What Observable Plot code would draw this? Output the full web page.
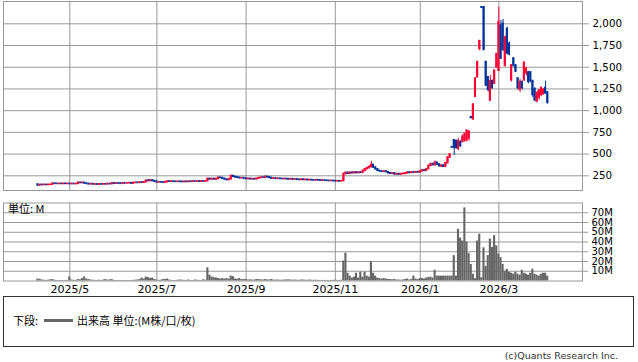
<!DOCTYPE html>
<html><head><meta charset="utf-8">
<script src="https://cdn.jsdelivr.net/npm/d3@7"></script>
<script src="https://cdn.jsdelivr.net/npm/@observablehq/plot@0.6"></script>
<style>
body{margin:0;background:#fff;}
#wrap{position:relative;width:638px;height:362px;overflow:hidden;background:#fff;font-family:"DejaVu Sans",sans-serif;}
#price{position:absolute;left:0;top:0;}
#vol{position:absolute;left:0;top:196px;}
#unit{position:absolute;left:8px;top:202px;font:11px "Noto Sans CJK JP",sans-serif;color:#000;line-height:13px;}
#legend{position:absolute;left:3px;top:296px;width:631px;height:51px;border:1px solid #333;box-sizing:border-box;font:11px "Noto Sans CJK JP",sans-serif;color:#000;}
#legend .t{position:absolute;top:15px;line-height:16px;white-space:nowrap;}
#legend .ln{position:absolute;left:40px;top:22px;width:29px;height:3px;background:#666;}
#copy{position:absolute;right:20px;top:350px;font:9.5px "DejaVu Sans",sans-serif;color:#333;white-space:nowrap;}
</style>
</head><body>
<div id="wrap">
  <div id="price"></div>
  <div id="vol"></div>
  <div id="unit">単位: M</div>
  <div id="legend"><span class="t" style="left:9px">下段:</span><span class="ln"></span><span class="t" style="left:73px">出来高 単位:(M株/口/枚)</span></div>
  <div id="copy">(c)Quants Research Inc.</div>
</div>
<script>
// trading-day index of first session of each labelled month, and labels
const monthIdx = [15, 56, 98, 140, 180, 217];
const monthLabels = ["2025/5", "2025/7", "2025/9", "2025/11", "2026/1", "2026/3"];
const priceTicks = [250, 500, 750, 1000, 1250, 1500, 1750, 2000];
const volTicks = [10, 20, 30, 40, 50, 60, 70];

const open = [
150,138,146,144,146,145,146,148,160,158,
157,158,156,158,157,158,155,157,155,156,
170,167,169,161,157,152,155,150,151,149,
152,150,153,151,156,154,163,160,162,161,
158,165,162,164,165,161,168,170,168,174,
170,176,194,190,196,190,182,174,176,174,
172,177,184,182,185,181,180,183,180,178,
182,179,184,181,185,183,185,182,185,184,
188,215,208,214,207,213,228,224,216,207,
200,210,248,238,232,228,222,224,218,212,
216,210,212,209,216,224,230,228,238,232,
226,218,220,215,217,214,212,214,211,208,
212,206,210,205,202,207,202,204,199,202,
198,196,200,197,195,196,194,192,190,192,
189,187,188,186,190,270,284,274,286,280,
288,282,288,284,305,325,338,350,375,345,
325,308,300,296,300,292,280,274,278,266,
270,264,270,272,278,288,282,290,286,292,
288,300,312,308,326,365,385,372,400,380,
360,368,355,395,460,580,660,650,560,640,
640,650,660,680,925,900,1160,1385,1710,2190,
2190,1560,1385,1117,1340,1310,1500,1460,1980,2000,
1520,1940,1770,1350,1600,1520,1370,1240,1330,1350,
1430,1440,1440,1340,1250,1110,1150,1180,1190,1260,1210];
const high = [
152,146,148,147,148,147,148,165,162,160,
160,160,159,160,160,160,158,159,158,172,
172,171,170,163,159,156,156,153,152,153,
154,154,155,157,158,165,166,164,165,163,
166,167,165,168,167,170,172,173,176,176,
178,198,205,198,200,195,185,178,178,176,
178,186,187,186,187,184,184,185,183,183,
184,185,186,186,188,186,187,186,188,190,
220,220,216,218,215,232,232,228,218,210,
212,255,252,242,236,232,226,226,222,218,
219,214,215,218,226,232,234,242,240,234,
228,222,222,219,219,217,216,216,214,214,
214,212,212,208,209,210,206,206,204,204,
200,202,202,199,198,198,197,195,194,194,
192,190,190,190,282,292,290,290,294,290,
292,290,292,310,330,345,360,418,378,350,
330,310,304,302,302,296,284,280,280,272,
274,272,276,280,290,290,292,296,294,296,
302,316,318,330,372,392,395,420,405,384,
372,372,400,470,505,585,665,660,680,650,
720,740,775,770,930,1075,1375,1565,1810,2195,
2195,1565,1390,1405,1350,1465,1660,2190,2040,2050,
1860,1960,1790,1530,1610,1530,1380,1360,1340,1560,
1500,1450,1450,1350,1260,1220,1240,1270,1250,1340,1220];
const low = [
135,136,142,142,143,143,144,147,155,155,
154,155,154,155,155,154,153,154,153,155,
165,165,160,155,150,150,148,147,147,147,
148,148,149,150,152,153,158,158,159,156,
157,160,159,162,160,160,165,166,167,168,
169,175,188,186,188,180,170,170,172,170,
171,176,180,180,180,178,178,179,177,176,
178,178,180,180,182,181,181,181,183,183,
187,205,205,206,204,212,222,214,205,196,
198,208,236,230,226,220,218,216,210,209,
208,206,207,208,214,222,226,227,230,224,
216,214,213,212,212,210,209,210,206,206,
204,204,203,200,200,200,198,197,196,196,
194,194,195,193,192,192,190,188,187,187,
185,184,185,182,188,262,270,270,278,276,
280,278,282,283,300,320,330,345,340,320,
305,296,292,290,288,276,270,268,264,260,
262,262,266,270,276,278,280,284,284,286,
286,298,304,306,324,360,368,370,375,355,
345,350,352,392,455,575,485,560,540,580,
630,640,640,650,910,895,1150,1380,1690,2175,
1690,1280,1215,1110,1250,1300,1490,1450,1590,1680,
1500,1640,1630,1330,1500,1440,1240,1210,1240,1340,
1400,1310,1320,1150,1100,1090,1120,1160,1180,1190,1075];
const close = [
138,145,144,146,145,146,147,160,158,157,
158,156,158,157,158,155,157,155,156,170,
167,169,161,157,152,155,150,151,149,152,
150,153,151,156,154,163,160,162,161,158,
165,162,164,165,161,168,170,168,174,170,
176,194,190,196,190,182,174,176,174,172,
177,184,182,185,181,180,183,180,178,182,
179,184,181,185,183,185,182,185,184,188,
215,208,214,207,213,228,224,216,207,200,
210,248,238,232,228,222,224,218,212,216,
210,212,209,216,224,230,228,238,232,226,
218,220,215,217,214,212,214,211,208,212,
206,210,205,202,207,202,204,199,202,198,
196,200,197,195,196,194,192,190,192,189,
187,188,186,188,270,284,274,286,280,288,
282,288,284,305,325,338,352,375,345,325,
308,300,296,300,292,280,274,278,266,270,
264,270,272,278,288,282,290,286,292,288,
300,312,308,326,365,385,372,400,380,360,
368,355,395,460,495,575,575,570,650,590,
700,730,770,755,915,1070,1370,1560,1800,2185,
1700,1290,1240,1340,1260,1460,1650,2020,1600,1700,
1840,1660,1650,1520,1520,1450,1260,1330,1260,1550,
1480,1330,1340,1180,1120,1200,1230,1260,1240,1200,1090];
// volume, millions of shares
const volume = [
2.0,1.8,1.0,0.8,0.6,0.8,1.2,1.5,0.8,0.5,
0.6,0.5,0.4,0.5,0.6,4.0,1.0,0.6,0.5,1.5,
1.2,2.5,4.2,2.0,1.5,1.0,0.8,0.6,0.5,0.8,
0.5,1.0,1.5,0.8,1.2,1.4,0.6,0.5,0.4,0.6,
0.5,0.4,0.5,0.4,0.5,0.6,0.8,1.0,1.5,3.0,
2.0,4.0,3.5,2.5,3.0,1.5,1.0,0.6,0.8,1.5,
1.5,2.0,1.0,0.6,0.5,0.4,0.8,1.0,0.8,0.6,
0.5,1.0,0.6,0.5,1.0,0.8,0.6,0.5,1.2,0.8,
13.5,6.0,4.0,3.5,3.0,2.5,2.0,2.5,2.0,2.5,
2.0,5.0,4.5,2.0,1.8,2.5,1.5,1.5,1.5,1.0,
1.2,1.0,0.8,1.5,1.5,1.2,1.0,1.5,1.2,1.0,
1.5,1.0,0.8,1.0,0.8,0.7,1.0,1.0,1.2,1.0,
0.8,1.0,0.8,0.6,1.0,1.0,0.8,0.6,1.0,0.8,
0.6,0.8,0.6,0.5,0.6,0.5,0.6,0.5,0.6,0.5,
0.8,0.6,0.5,0.8,20.5,28.6,8.0,5.0,3.0,4.0,
8.0,3.0,9.0,4.0,9.0,5.0,4.0,19.7,8.0,5.0,
3.0,2.5,2.0,2.5,2.0,1.5,1.5,1.2,1.5,1.0,
1.0,0.8,1.0,1.5,2.0,1.0,1.5,5.0,2.0,1.5,
2.5,2.5,2.0,3.0,3.5,4.0,3.0,11.0,5.0,5.0,
5.0,5.0,5.0,5.0,5.0,5.0,26.0,5.0,53.0,44.0,
41,75,40,28,17,7,2.4,41,48,3.4,
34,15,26,43,34.5,46.5,36,27.6,24,17,
10,12,9,8,7,9,7,6,11,8,
7,6,8,12,7,6,5,7,8,8,5];

const UP = "#ff0033", DOWN = "#003399", GRID = "#999999";
const rows = close.map((c, i) => ({i, o: open[i], h: high[i], l: low[i], c, v: volume[i], up: c >= open[i]}));
const xDomain = [-16.21, 256.38];
const labelOf = new Map(monthIdx.map((d, k) => [d, monthLabels[k]]));

const price = Plot.plot({
  width: 638, height: 192,
  marginLeft: 3, marginRight: 56, marginTop: 1, marginBottom: 2,
  x: {domain: xDomain, axis: null},
  y: {domain: [80.8, 2256.7], axis: null},
  style: {fontFamily: "DejaVu Sans", fontSize: "10.3px", color: "#000", background: "transparent", overflow: "visible"},
  marks: [
    Plot.ruleY(priceTicks, {stroke: GRID}),
    Plot.ruleX(monthIdx, {stroke: GRID}),
    Plot.frame({stroke: GRID}),
    Plot.axisY({ticks: priceTicks, anchor: "right", tickSize: 6, tickPadding: 4, stroke: GRID, fill: "#000",
      tickFormat: d3.format(","), label: null}),
    Plot.ruleX(rows, {x: "i", y1: "l", y2: "h", stroke: d => d.up ? UP : DOWN, strokeWidth: 1}),
    Plot.rect(rows, {x1: d => d.i - 0.5, x2: d => d.i + 0.5,
      y1: d => Math.min(d.o, d.c), y2: d => Math.max(d.o, d.c),
      fill: d => d.up ? UP : DOWN, insetTop: -0.8, insetBottom: -0.8})
  ]
});
document.getElementById("price").append(price);

const vol = Plot.plot({
  width: 638, height: 100,
  marginLeft: 3, marginRight: 56, marginTop: 6.5, marginBottom: 15.5,
  x: {domain: xDomain, axis: null},
  y: {domain: [0, 80], axis: null},
  style: {fontFamily: "DejaVu Sans", fontSize: "10px", color: "#000", background: "transparent", overflow: "visible"},
  marks: [
    Plot.ruleY(volTicks, {stroke: GRID}),
    Plot.ruleX(monthIdx, {stroke: GRID}),
    Plot.rect(rows, {x1: d => d.i - 0.5, x2: d => d.i + 0.5, y1: 0, y2: "v", fill: "#666666"}),
    Plot.frame({stroke: GRID}),
    Plot.axisY({ticks: volTicks, anchor: "right", tickSize: 5, tickPadding: 4, stroke: GRID, fill: "#000",
      tickFormat: d => d + "M", label: null, fontSize: 10}),
    Plot.axisX({ticks: monthIdx, anchor: "bottom", tickSize: 0, tickPadding: 4, fill: "#000",
      tickFormat: d => labelOf.get(d), label: null, fontSize: 11})
  ]
});
document.getElementById("vol").append(vol);
</script>
</body></html>
